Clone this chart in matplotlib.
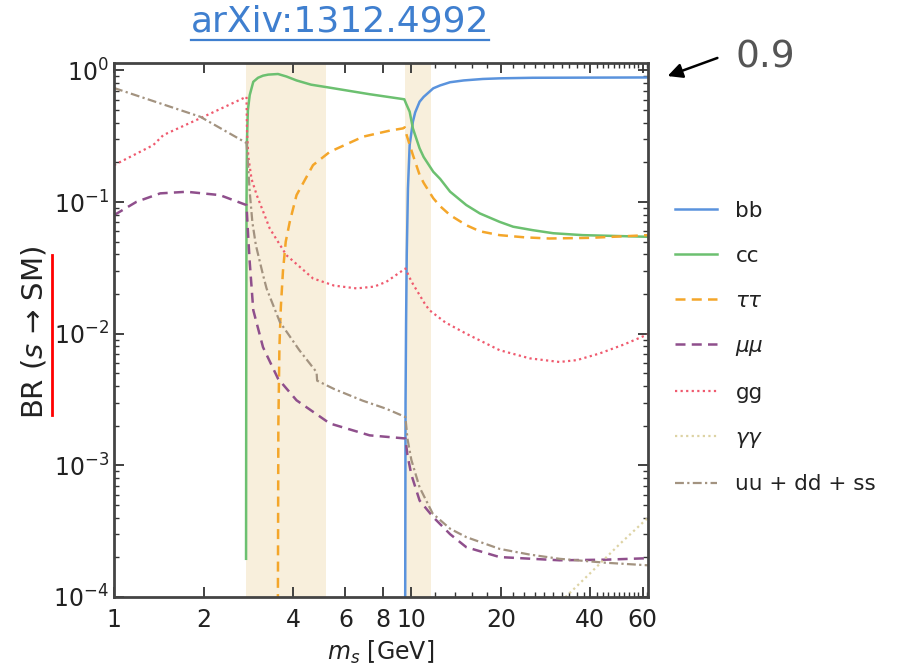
import matplotlib
matplotlib.use("Agg")
import matplotlib.pyplot as plt
from matplotlib.lines import Line2D
from matplotlib.ticker import FixedLocator, NullFormatter, LogLocator

# ---- data (m_s in GeV, branching ratio) ----
bb_x = [9.53, 9.56, 9.6, 9.65, 9.74, 9.87, 10.12, 10.3, 10.66, 11.0, 11.85, 12.5, 13.5, 15.0,
        17.4, 20.0, 25.6, 62.5]
bb_y = [5e-5, 0.003, 0.012, 0.04, 0.127, 0.271, 0.408, 0.48, 0.579, 0.63, 0.732, 0.77, 0.814,
        0.84, 0.862, 0.872, 0.88, 0.885]

cc_x = [2.78, 2.785, 2.79, 2.80, 2.82, 2.86, 2.94, 3.05, 3.17, 3.3, 3.56, 3.8, 4.11, 4.6, 5.32,
        7.24, 9.47, 9.6, 9.87, 10.12, 10.66, 11.0, 11.85, 12.5, 13.5, 15.3, 17.0, 19.8, 22.0,
        25.6, 30.0, 37.7, 62.5]
cc_y = [1.95e-4, 0.01, 0.1, 0.3, 0.5, 0.65, 0.82, 0.88, 0.913, 0.93, 0.94, 0.9, 0.84, 0.78, 0.74,
        0.66, 0.604, 0.56, 0.486, 0.363, 0.256, 0.22, 0.17, 0.15, 0.12, 0.095, 0.082, 0.0708,
        0.065, 0.0612, 0.058, 0.0561, 0.0545]

tautau_x = [3.555, 3.57, 3.60, 3.64, 3.70, 3.78, 3.90, 4.11, 4.67, 5.32, 6.88, 8.5, 9.37,
            9.5, 9.64, 10.12, 10.66, 11.0, 11.85, 12.5, 13.5, 15.3, 17.0, 19.8, 24.0, 29.1,
            40, 62.5]
tautau_y = [5e-5, 0.002, 0.008, 0.016, 0.03, 0.05, 0.0708, 0.113, 0.191, 0.241, 0.314, 0.35,
            0.363, 0.37, 0.323, 0.228, 0.161, 0.14, 0.107, 0.093, 0.0796, 0.0668, 0.06, 0.0561,
            0.054, 0.0529, 0.0535, 0.0561]

mumu_x = [1.0, 1.19, 1.43, 1.755, 2.27, 2.79, 2.82, 2.86, 2.94, 3.17, 3.56, 4.11, 5.32, 7.24,
          9.55, 9.7, 10.0, 10.66, 11.85, 13.5, 15.3, 19.8, 31.5, 45, 62.5]
mumu_y = [0.0796, 0.1005, 0.1165, 0.1198, 0.113, 0.0949, 0.06, 0.035, 0.0151, 0.0079, 0.00456,
          0.00312, 0.00208, 0.00169, 0.0016, 0.0012, 8.5e-4, 5.4e-4, 4.04e-4, 3.0e-4, 2.39e-4,
          2.01e-4, 1.9e-4, 1.92e-4, 1.97e-4]

gg_x = [1.0, 1.355, 1.465, 2.0, 2.79, 2.80, 2.83, 2.9, 3.02, 3.34, 3.80, 4.67, 5.5, 6.54, 7.5,
        8.24, 9.55, 10.0, 11.08, 11.5, 13.0, 15.3, 19.8, 25, 31.5, 36, 42.9, 52, 62.5]
gg_y = [0.191, 0.271, 0.323, 0.445, 0.632, 0.35, 0.22, 0.15, 0.113, 0.063, 0.0395, 0.0263,
        0.0232, 0.0221, 0.0228, 0.0248, 0.0313, 0.025, 0.017, 0.0151, 0.0122, 0.01, 0.0075,
        0.0065, 0.0061, 0.0063, 0.00707, 0.0083, 0.0099]

gamgam_x = [31, 40, 50, 62.5]
gamgam_y = [8.7e-5, 1.52e-4, 2.5e-4, 4.0e-4]

uds_x = [1.0, 1.95, 2.79, 2.82, 2.86, 2.92, 3.0, 3.17, 3.26, 3.61, 4.2, 4.8, 4.82, 5.5, 6.86,
         8.2, 9.55, 9.7, 10.0, 10.66, 11.8, 13.5, 15.3, 19.8, 25, 31.5, 45, 62.5]
uds_y = [0.736, 0.445, 0.281, 0.2, 0.12, 0.07, 0.047, 0.028, 0.022, 0.0123, 0.0075, 0.0051,
         0.0044, 0.0038, 0.0031, 0.0027, 0.00233, 0.0016, 0.0011, 6.8e-4, 4.3e-4, 3.3e-4,
         2.85e-4, 2.32e-4, 2.1e-4, 1.95e-4, 1.82e-4, 1.74e-4]

bands = [(2.78, 5.18), (9.55, 11.6)]

xtick_vals = [1, 2, 4, 6, 8, 10, 20, 40, 60]
xtick_labels = ["1", "2", "4", "6", "8", "10", "20", "40", "60"]
xminor_vals = [12, 14, 16, 18] + list(range(22, 40, 2)) + list(range(42, 64, 2))

fig = plt.figure(figsize=(9.05, 6.70), dpi=100)
ax = fig.add_axes([0.126, 0.109, 0.590, 0.797])

for lo, hi in bands:
    ax.axvspan(lo, hi, color="#f8efdc", lw=0, zorder=0)

ax.plot(bb_x, bb_y, color="#5a93dd", lw=1.8, label="bb")
ax.plot(cc_x, cc_y, color="#6cc070", lw=1.8, label="cc")
ax.plot(tautau_x, tautau_y, color="#f4a62a", lw=1.8, ls=(0, (4, 2.5)), label=r"$\tau\tau$")
ax.plot(mumu_x, mumu_y, color="#8f4f8c", lw=1.8, ls=(0, (4, 2.5)), label=r"$\mu\mu$")
ax.plot(gg_x, gg_y, color="#ef5a6e", lw=1.6, ls=(0, (1, 1.5)), label="gg")
ax.plot(gamgam_x, gamgam_y, color="#ddd3a4", lw=1.6, ls=(0, (1, 1.5)), label=r"$\gamma\gamma$")
ax.plot(uds_x, uds_y, color="#a39380", lw=1.6, ls=(0, (4, 1.5, 1, 1.5)), label="uu + dd + ss")

ax.set_xscale("log")
ax.set_yscale("log")
ax.set_xlim(1, 62.5)
ax.set_ylim(1e-4, 1.14)

ax.xaxis.set_major_locator(FixedLocator(xtick_vals))
ax.set_xticklabels(xtick_labels)
ax.xaxis.set_minor_locator(FixedLocator(xminor_vals))
ax.xaxis.set_minor_formatter(NullFormatter())
ax.yaxis.set_major_locator(LogLocator(base=10, numticks=10))
ax.yaxis.set_minor_locator(LogLocator(base=10, subs=range(2, 10), numticks=20))
ax.yaxis.set_minor_formatter(NullFormatter())

ax.tick_params(which="both", direction="in", top=True, right=True, colors="#333333",
               labelsize=17, labelcolor="#222222")
ax.tick_params(which="major", length=7, width=1.3)
ax.tick_params(which="minor", length=3.5, width=1.0)
ax.tick_params(axis="x", which="major", pad=8)
for s in ax.spines.values():
    s.set_linewidth(2)
    s.set_color("#444444")

ax.set_xlabel(r"$m_s$ [GeV]", fontsize=17, color="#222222", labelpad=5)
ax.set_ylabel(r"BR ($s$ → SM)", fontsize=21, color="#222222")
ax.yaxis.set_label_coords(-0.123, 0.496)

ax.legend(loc="upper left", bbox_to_anchor=(0.746, 0.7005), bbox_transform=fig.transFigure,
          frameon=False, fontsize=15.5, handlelength=1.95, handletextpad=0.85,
          labelspacing=1.16, borderpad=0, borderaxespad=0, labelcolor="#222222")

# title with underline
t = fig.text(340 / 905, 1 - 22 / 670, "arXiv:1312.4992", fontsize=26, color="#3f7fcf",
             ha="center", va="center")
fig.canvas.draw()
bb = t.get_window_extent(fig.canvas.get_renderer()).transformed(fig.transFigure.inverted())
fig.add_artist(Line2D([bb.x0, bb.x1], [bb.y0 - 0.002, bb.y0 - 0.002], color="#3f7fcf", lw=1.6))

# annotation arrow and value
fig.text(735 / 905, 1 - 57 / 670, "0.9", fontsize=27, color="#555555", ha="left", va="center")
ax.annotate("", xy=(665, 670 - 77), xytext=(720, 670 - 57), xycoords="figure pixels",
            textcoords="figure pixels",
            arrowprops=dict(arrowstyle="-|>", color="black", lw=1.8, mutation_scale=22))

# red marker line beside y label
fig.add_artist(Line2D([52 / 905, 52 / 905], [1 - 255 / 670, 1 - 415 / 670], color="red", lw=2))

fig.savefig("out.png", dpi=100)
